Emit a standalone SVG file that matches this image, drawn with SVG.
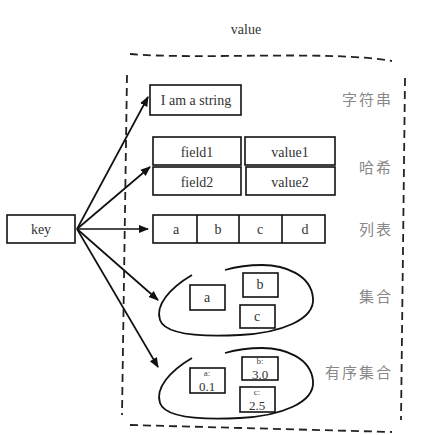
<svg xmlns="http://www.w3.org/2000/svg" width="423" height="435" viewBox="0 0 423 435">
<style>
.bg{fill:#fff}
.box{fill:none;stroke:#111;stroke-width:1.6}
.dash{fill:none;stroke:#222;stroke-width:1.8;stroke-dasharray:8 5}
.loop{fill:none;stroke:#111;stroke-width:1.8}
.t{font-family:"Liberation Serif",serif;font-size:14px;fill:#333;text-anchor:middle}
.n{font-family:"Liberation Serif",serif;font-size:13px;fill:#333;text-anchor:middle}
.s{font-family:"Liberation Serif",serif;font-size:9px;fill:#444;text-anchor:middle}
.cn{font-family:"Noto Sans CJK SC",sans-serif;font-size:15px;fill:#888;text-anchor:end;letter-spacing:2px}
.arr{fill:none;stroke:#111;stroke-width:1.7;marker-end:url(#ah)}
</style>
<defs>
<marker id="ah" viewBox="0 0 10 10" refX="9" refY="5" markerWidth="6" markerHeight="6" orient="auto" markerUnits="strokeWidth">
<path d="M0,1 L10,5 L0,9 z" fill="#111"/>
</marker>
</defs>
<rect class="bg" x="0" y="0" width="423" height="435"/>
<g id="value-frame">
<text class="t" x="246" y="34">value</text>
<path class="dash" d="M130,54 C200,60 330,50 392,61"/>
<path class="dash" d="M127,75 L122,415"/>
<path class="dash" d="M405,78 L401,420"/>
<path class="dash" d="M130,425 L392,432"/>
</g>
<g id="key">
<rect class="box" x="7" y="215" width="68" height="28"/>
<text class="t" x="41" y="234">key</text>
</g>
<g id="string">
<rect class="box" x="150" y="85" width="91" height="30"/>
<text class="t" x="196" y="105">I am a string</text>
<text class="cn" x="393" y="105">字符串</text>
</g>
<g id="hash">
<rect class="box" x="153" y="137" width="88" height="28"/>
<rect class="box" x="245" y="137" width="90" height="28"/>
<rect class="box" x="153" y="167" width="88" height="28"/>
<rect class="box" x="246" y="167" width="89" height="28"/>
<text class="t" x="197" y="157">field1</text>
<text class="t" x="290" y="157">value1</text>
<text class="t" x="197" y="187">field2</text>
<text class="t" x="290" y="187">value2</text>
<text class="cn" x="393" y="173">哈希</text>
</g>
<g id="list">
<rect class="box" x="153" y="215" width="172" height="28"/>
<path class="box" d="M197,215 V243 M239,215 V243 M282,215 V243"/>
<text class="t" x="176" y="234">a</text>
<text class="t" x="218" y="234">b</text>
<text class="t" x="260" y="234">c</text>
<text class="t" x="305" y="234">d</text>
<text class="cn" x="393" y="235">列表</text>
</g>
<g id="set">
<path class="loop" d="M192,275 C170,288 155,305 160,320 C165,335 200,337 240,335 C280,333 315,320 313,298 C311,275 285,265 262,265 C245,265 232,268 225,270"/>
<rect class="box" x="190" y="285" width="35" height="25"/>
<rect class="box" x="243" y="273" width="35" height="24"/>
<rect class="box" x="240" y="305" width="35" height="23"/>
<text class="t" x="207" y="302">a</text>
<text class="t" x="260" y="289">b</text>
<text class="t" x="257" y="321">c</text>
<text class="cn" x="393" y="302">集合</text>
</g>
<g id="zset">
<path class="loop" d="M192,358 C170,371 155,388 160,403 C165,418 200,420 240,418 C280,416 315,403 313,381 C311,358 285,348 262,348 C245,348 232,351 225,353"/>
<rect class="box" x="190" y="368" width="35" height="25"/>
<rect class="box" x="242" y="357" width="36" height="23"/>
<rect class="box" x="240" y="387" width="35" height="25"/>
<text class="s" x="207" y="376">a:</text>
<text class="n" x="207" y="391">0.1</text>
<text class="s" x="260" y="364">b:</text>
<text class="n" x="260" y="379">3.0</text>
<text class="s" x="257" y="395">c:</text>
<text class="n" x="257" y="410">2.5</text>
<text class="cn" x="393" y="378">有序集合</text>
</g>
<g id="connectors">
<path class="arr" d="M77,229 L148,97"/>
<path class="arr" d="M77,229 L150,167"/>
<path class="arr" d="M77,229 L148,229"/>
<path class="arr" d="M77,229 L158,300"/>
<path class="arr" d="M77,229 L158,367"/>
</g>
</svg>
